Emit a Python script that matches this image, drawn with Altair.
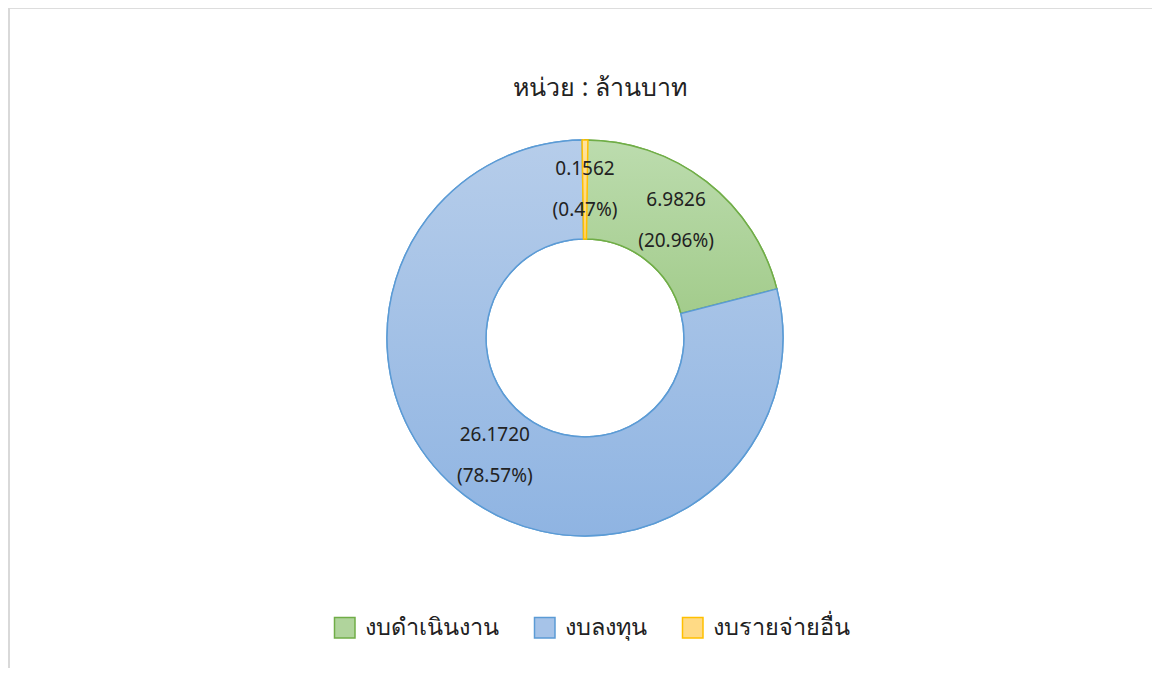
import altair as alt
import pandas as pd

categories = ["งบดำเนินงาน", "งบลงทุน", "งบรายจ่ายอื่น"]
values = [6.9826, 26.1720, 0.1562]
order = [1, 2, 3]

fill_top = ["#bcdcae", "#b6cdea", "#ffe3a0"]
fill_bottom = ["#a3cc8c", "#8fb4e2", "#ffd36e"]
legend_fill = ["#b0d49c", "#a6c3e8", "#ffda85"]
strokes = ["#70ad47", "#5b9bd5", "#ffc000"]

title_text = "หน่วย : ล้านบาท"

FONT = "Noto Sans"
W, H = 1144, 660
CX, CY = 577, 330
R_OUT, R_IN = 198, 99

df = pd.DataFrame({"cat": categories, "value": values, "ord": order})

base = (
    alt.Chart(df)
    .transform_joinaggregate(total="sum(value)")
    .transform_window(cum="sum(value)", sort=[alt.SortField("ord")], frame=[None, 0])
    .transform_calculate(
        start="datum.cum - datum.value",
        mid="datum.cum - datum.value / 2",
        pct="datum.value / datum.total * 100",
    )
)

theta_scale = alt.Scale(zero=True)

legend_cfg = dict(
    title=None,
    orient="none",
    legendX=325,
    legendY=608,
    direction="horizontal",
    symbolType="square",
    symbolSize=420,
    symbolStrokeWidth=1.5,
    symbolOpacity=1,
    labelFont=FONT,
    labelFontSize=23.5,
    labelColor="#222222",
    labelLimit=400,
    labelOffset=8,
    columnPadding=32,
)

legend_layer = base.mark_arc(
    innerRadius=R_IN, outerRadius=R_OUT, strokeWidth=1.5
).encode(
    theta=alt.Theta("start:Q", scale=theta_scale),
    theta2="cum:Q",
    x=alt.value(CX),
    y=alt.value(CY),
    fill=alt.Fill(
        "cat:N",
        scale=alt.Scale(domain=categories, range=legend_fill),
        sort=categories,
        legend=alt.Legend(**legend_cfg),
    ),
    stroke=alt.Stroke(
        "cat:N",
        scale=alt.Scale(domain=categories, range=strokes),
        sort=categories,
        legend=alt.Legend(**legend_cfg),
    ),
)

grad_layers = []
for i, c in enumerate(categories):
    grad_layers.append(
        base.transform_filter(alt.datum.cat == c)
        .mark_arc(
            innerRadius=R_IN,
            outerRadius=R_OUT,
            fill=alt.Gradient(
                gradient="linear",
                stops=[
                    alt.GradientStop(color=fill_top[i], offset=0),
                    alt.GradientStop(color=fill_bottom[i], offset=1),
                ],
                x1=0, x2=0, y1=0, y2=1,
            ),
            stroke=strokes[i],
            strokeWidth=1.5,
        )
        .encode(
            theta=alt.Theta("start:Q", scale=theta_scale),
            theta2="cum:Q",
            x=alt.value(CX),
            y=alt.value(CY),
        )
    )

labels = base.transform_calculate(
    label="[format(datum.value, '.4f'), '(' + format(datum.pct, '.2f') + '%)']"
).mark_text(
    radius=(R_IN + R_OUT) / 2,
    font=FONT,
    fontSize=19,
    lineHeight=41,
    baseline="middle",
    align="center",
    dy=-20.5,
    color="#222222",
).encode(
    theta=alt.Theta("mid:Q", scale=theta_scale),
    x=alt.value(CX),
    y=alt.value(CY),
    text="label:N",
)

title = alt.Chart(pd.DataFrame({"t": [title_text]})).mark_text(
    font=FONT, fontSize=25, color="#222222", baseline="middle", align="center"
).encode(text="t:N", x=alt.value(CX + 15), y=alt.value(80))

border_left = alt.Chart(pd.DataFrame({"t": [0]})).mark_rule(
    color="#d9d9d9", strokeWidth=2
).encode(x=alt.value(1), y=alt.value(-1), y2=alt.value(H + 20))
border_top = alt.Chart(pd.DataFrame({"t": [0]})).mark_rule(
    color="#d9d9d9", strokeWidth=2
).encode(x=alt.value(0), x2=alt.value(W + 20), y=alt.value(-1))

chart = (
    alt.layer(border_left, border_top, legend_layer, *grad_layers, labels, title)
    .properties(width=W, height=H, padding=0, autosize=alt.AutoSizeParams(type="none"))
    .configure_view(stroke=None)
    .configure(background="white")
)

chart.save("out.html", embed_options={"renderer": "svg", "actions": False})
